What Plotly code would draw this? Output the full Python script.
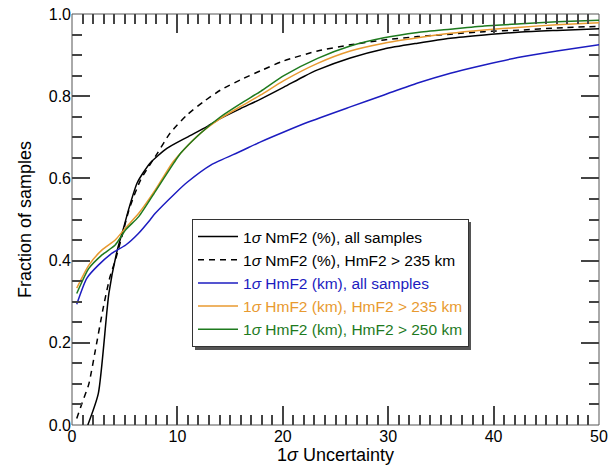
import plotly.graph_objects as go

# ---- data ----
nm_all_x = [1.5, 2.5, 3.5, 4.3, 4.9, 5.4, 6.2, 7.4, 9.0, 10.9, 12.8, 14.1, 16.0, 17.9, 20.1, 22.0, 23.3, 26.4, 29.6, 32.8, 35.9, 39.1, 42.6, 46.0, 50.0]
nm_all_y = [0.0, 0.077, 0.32, 0.426, 0.48, 0.527, 0.59, 0.637, 0.673, 0.70, 0.726, 0.746, 0.770, 0.793, 0.822, 0.848, 0.864, 0.893, 0.915, 0.929, 0.941, 0.949, 0.956, 0.960, 0.964]

nm_235_x = [0.45, 0.95, 1.6, 2.2, 3.0, 3.6, 4.1, 4.75, 5.4, 6.5, 8.1, 9.3, 10.9, 12.5, 14.1, 16.0, 17.9, 20.1, 23.3, 26.4, 29.6, 32.8, 35.9, 39.1, 42.6, 46.0, 50.0]
nm_235_y = [0.016, 0.053, 0.10, 0.18, 0.29, 0.36, 0.40, 0.46, 0.523, 0.596, 0.661, 0.71, 0.754, 0.787, 0.815, 0.840, 0.862, 0.886, 0.910, 0.925, 0.937, 0.945, 0.951, 0.957, 0.961, 0.966, 0.970]

hm_all_x = [0.45, 1.4, 2.5, 3.8, 5.1, 6.3, 7.4, 7.9, 9.8, 10.9, 13.2, 16.0, 17.9, 20.1, 22.3, 26.4, 29.6, 32.8, 35.9, 39.1, 42.3, 46.0, 50.0]
hm_all_y = [0.294, 0.357, 0.389, 0.418, 0.438, 0.466, 0.499, 0.515, 0.564, 0.59, 0.633, 0.666, 0.689, 0.713, 0.736, 0.774, 0.803, 0.832, 0.856, 0.876, 0.894, 0.91, 0.925]

hm_235_x = [0.45, 1.6, 2.85, 4.1, 5.06, 6.33, 7.9, 9.5, 10.3, 12.2, 14.1, 16.0, 17.9, 20.1, 23.3, 26.4, 29.6, 32.8, 35.9, 39.1, 42.6, 46.0, 50.0]
hm_235_y = [0.333, 0.389, 0.426, 0.45, 0.479, 0.515, 0.572, 0.637, 0.661, 0.71, 0.746, 0.775, 0.803, 0.838, 0.880, 0.910, 0.929, 0.942, 0.953, 0.961, 0.968, 0.974, 0.979]

hm_250_x = [0.45, 1.6, 2.85, 4.1, 5.06, 6.33, 7.9, 9.65, 10.3, 12.2, 14.1, 16.0, 17.9, 20.1, 23.3, 26.4, 29.6, 32.8, 35.9, 39.1, 42.6, 46.0, 50.0]
hm_250_y = [0.32, 0.381, 0.414, 0.438, 0.474, 0.507, 0.568, 0.637, 0.661, 0.71, 0.75, 0.782, 0.812, 0.850, 0.892, 0.922, 0.942, 0.955, 0.963, 0.971, 0.976, 0.981, 0.985]

names = [
    "1<i>σ</i> NmF2 (%), all samples",
    "1<i>σ</i> NmF2 (%), HmF2 > 235 km",
    "1<i>σ</i> HmF2 (km), all samples",
    "1<i>σ</i> HmF2 (km), HmF2 > 235 km",
    "1<i>σ</i> HmF2 (km), HmF2 > 250 km",
]
colors = ["#000000", "#000000", "#1c1cc0", "#e89a30", "#1e7a1e"]
dashes = ["solid", "6px,5px", "solid", "solid", "solid"]
xs = [nm_all_x, nm_235_x, hm_all_x, hm_235_x, hm_250_x]
ys = [nm_all_y, nm_235_y, hm_all_y, hm_235_y, hm_250_y]

FONT = "Liberation Sans, Arial, Helvetica, sans-serif"

fig = go.Figure()
for x, y, n, c, d in zip(xs, ys, names, colors, dashes):
    label = n if c == "#000000" else f'<span style="color:{c}">{n}</span>'
    fig.add_trace(go.Scatter(
        x=x, y=y, mode="lines", name=label,
        line=dict(color=c, width=1.5, dash=d, shape="spline", smoothing=0.6),
    ))
# empty trace so the mirrored (top/right) tick axes are drawn
fig.add_trace(go.Scatter(x=[None], y=[None], xaxis="x2", yaxis="y2", showlegend=False,
                         hoverinfo="skip"))

W, H = 611, 467
ml, mr, mt, mb = 72, 12, 14, 42
pw, ph = W - ml - mr, H - mt - mb

def px2paper(px, py):
    return (px - ml) / pw, (H - mb - py) / ph

# plot frame
fig.add_shape(type="rect", xref="paper", yref="paper", x0=0, y0=0, x1=1, y1=1,
              line=dict(color="#555555", width=1), fillcolor="rgba(0,0,0,0)", layer="below")

# legend drop-shadow
sx0, sy0 = px2paper(195, 350)
sx1, sy1 = px2paper(471, 222)
fig.add_shape(type="rect", xref="paper", yref="paper", x0=sx0, y0=sy0, x1=sx1, y1=sy1,
              fillcolor="#555555", line=dict(width=0), layer="above")

lx, ly = px2paper(192, 219)

TICKC = "#444444"
TW = 1.5
common = dict(
    showgrid=False, zeroline=False, showline=False,
    ticks="inside", tickcolor=TICKC, tickwidth=TW, automargin=False,
    tickfont=dict(family=FONT, size=16, color="#000000"),
)
xcommon = dict(range=[0, 50], dtick=10, tick0=0, ticklen=19,
               minor=dict(dtick=1, ticklen=10, ticks="inside", tickcolor=TICKC, tickwidth=TW),
               **common)
ycommon = dict(range=[0, 1], dtick=0.2, tick0=0, ticklen=18, tickformat=".1f",
               minor=dict(dtick=0.05, ticklen=10, ticks="inside", tickcolor=TICKC, tickwidth=TW),
               **common)

fig.update_layout(
    template="none",
    width=W, height=H,
    margin=dict(l=ml, r=mr, t=mt, b=mb, autoexpand=False),
    paper_bgcolor="white", plot_bgcolor="white",
    font=dict(family=FONT, size=16, color="#000"),
    xaxis=dict(title=dict(text="1<i>σ</i> Uncertainty", font=dict(family=FONT, size=18, color="#000"), standoff=2),
               **xcommon),
    yaxis=dict(title=dict(text="Fraction of samples", font=dict(family=FONT, size=18, color="#000"), standoff=12),
               **ycommon),
    xaxis2=dict(overlaying="x", side="top", anchor="y2", showticklabels=False, **xcommon),
    yaxis2=dict(overlaying="y", side="right", anchor="x2", showticklabels=False, **ycommon),
    showlegend=True,
    legend=dict(
        x=lx, y=ly, xanchor="left", yanchor="top",
        bgcolor="white", bordercolor="#333333", borderwidth=1,
        font=dict(family=FONT, size=15.5, color="#000"),
        itemwidth=40, tracegroupgap=0,
    ),
)

fig.write_html("out.html")
